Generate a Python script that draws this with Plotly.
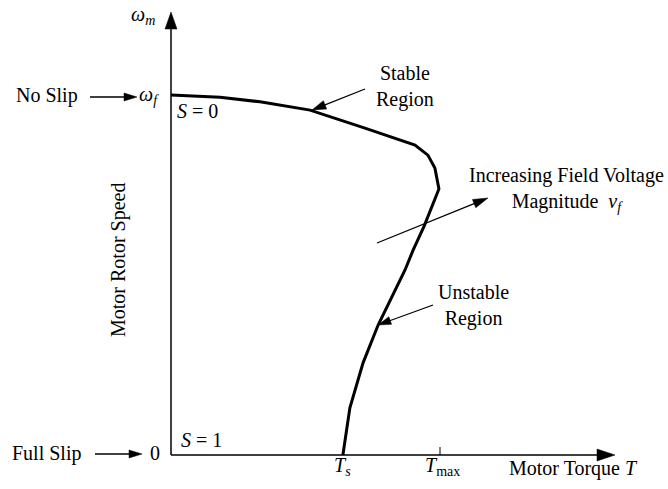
import math
import plotly.graph_objects as go

# ---- data (normalised: torque in units of T_max, speed in units of omega_f) ----
torque = [0.0, 0.182, 0.331, 0.517, 0.721, 0.907, 0.955, 0.981, 0.996,
          0.941, 0.900, 0.870, 0.770, 0.714, 0.665, 0.639]
speed = [1.0, 0.994, 0.981, 0.958, 0.908, 0.861, 0.833, 0.797, 0.739,
         0.636, 0.569, 0.514, 0.361, 0.256, 0.131, 0.0]
T_s = 0.639
T_max = 1.0

# ---- layout geometry ----
W, H = 668, 489
X0_PX, Y0_PX = 171, 455      # origin in pixels
SX, SY = 269, 360            # pixels per unit

FONT = "Liberation Serif, Times New Roman, serif"
FS = 20

def px(x):
    return x / W

def py(y):
    return 1 - y / H

fig = go.Figure()
fig.add_trace(go.Scatter(x=torque, y=speed, mode="lines",
                         line=dict(color="black", width=3), hoverinfo="skip"))

shapes = []
annotations = []

def arrow(x0, y0, x1, y1, lw, hl, hw):
    d = math.hypot(x1 - x0, y1 - y0)
    ux, uy = (x1 - x0) / d, (y1 - y0) / d
    bx, by = x1 - ux * hl, y1 - uy * hl
    shapes.append(dict(type="line", xref="paper", yref="paper",
                       x0=px(x0), y0=py(y0), x1=px(bx + ux * 2), y1=py(by + uy * 2),
                       line=dict(color="black", width=lw)))
    nx, ny = -uy, ux
    p1 = (bx + nx * hw / 2, by + ny * hw / 2)
    p2 = (bx - nx * hw / 2, by - ny * hw / 2)
    path = "M{},{} L{},{} L{},{} Z".format(px(x1), py(y1), px(p1[0]), py(p1[1]),
                                           px(p2[0]), py(p2[1]))
    shapes.append(dict(type="path", xref="paper", yref="paper", path=path,
                       fillcolor="black", line=dict(color="black", width=0.5)))

def text(t, x, y, xanchor="center", angle=0):
    annotations.append(dict(text=t, x=px(x), y=py(y), xref="paper", yref="paper",
                            xanchor=xanchor, yanchor="middle", showarrow=False,
                            textangle=angle,
                            font=dict(family=FONT, size=FS, color="black")))

# axes
arrow(X0_PX, Y0_PX, X0_PX, 12, 1.5, 17, 12)
arrow(X0_PX, Y0_PX, 615, Y0_PX, 1.5, 18, 12)
# T_max tick
shapes.append(dict(type="line", xref="x", yref="paper", x0=T_max, x1=T_max,
                   y0=py(Y0_PX - 8), y1=py(Y0_PX), line=dict(color="black", width=1)))

# pointer arrows
arrow(90, 97, 137, 97, 1.3, 13, 8)
arrow(95, 454, 142, 454, 1.3, 13, 8)
arrow(365, 89, 312, 110, 1.3, 14, 9)
arrow(377, 243, 488, 198, 1.3, 15, 9)
arrow(433, 305, 378, 325, 1.3, 13, 8)

# labels
text("<i>ω</i><sub><i>m</i></sub>", 143, 15)
text("No Slip", 47, 95)
text("<i>ω</i><sub><i>f</i></sub>", 149, 96)
text("<i>S</i> = 0", 175, 111, xanchor="left")
text("Stable<br>Region", 405, 87)
text("Increasing Field Voltage<br>Magnitude  <i>v</i><sub><i>f</i></sub>", 566, 189)
text("Unstable<br>Region", 473, 305)
text("Full Slip", 46, 453)
text("0", 155, 453)
text("<i>S</i> = 1", 179, 440, xanchor="left")
text("Motor Rotor Speed", 118, 260, angle=-90)
text("<i>T</i><sub><i>s</i></sub>", 342, 466)
text("<i>T</i><sub>max</sub>", 442, 466)
text("Motor Torque <i>T</i>", 507, 468, xanchor="left")

fig.update_layout(
    width=W, height=H, margin=dict(l=0, r=0, t=0, b=0),
    paper_bgcolor="white", plot_bgcolor="white", showlegend=False,
    font=dict(family=FONT, size=FS, color="black"),
    xaxis=dict(range=[-X0_PX / SX, (W - X0_PX) / SX], visible=False, fixedrange=True),
    yaxis=dict(range=[(Y0_PX - H) / SY, Y0_PX / SY], visible=False, fixedrange=True),
    shapes=shapes, annotations=annotations,
)
fig.write_html("out.html", config={"displayModeBar": False},
               post_script="document.body.style.margin='0';document.body.style.overflow='hidden';")
